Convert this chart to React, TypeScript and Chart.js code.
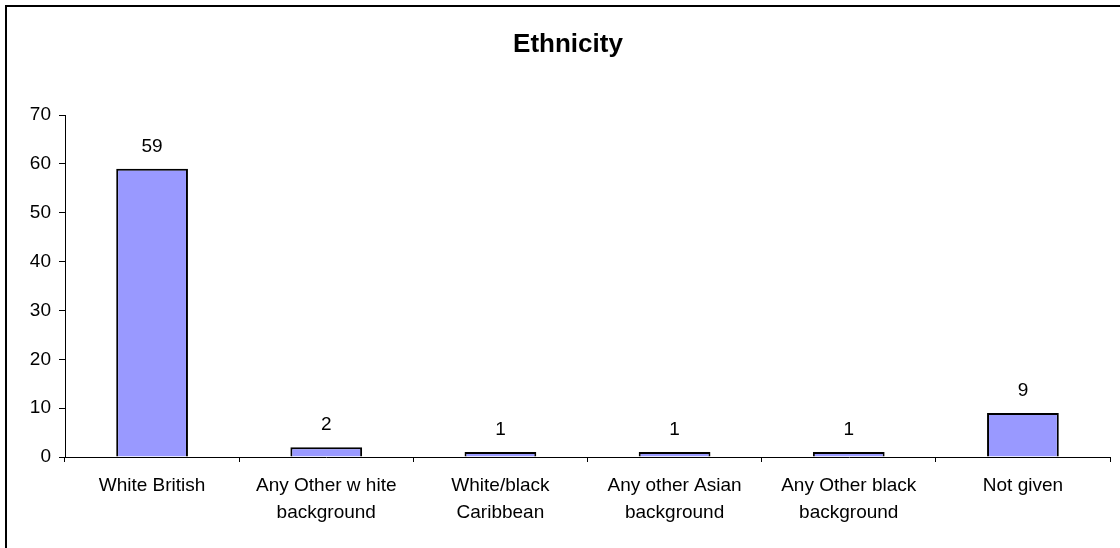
import React, { useEffect, useRef } from "react";
import { Chart, registerables } from "chart.js";

Chart.register(...registerables);

const categories: string[][] = [
  ["White British"],
  ["Any Other w hite", "background"],
  ["White/black", "Caribbean"],
  ["Any other Asian", "background"],
  ["Any Other black", "background"],
  ["Not given"],
];
const values: number[] = [59, 2, 1, 1, 1, 9];
const yTicks: number[] = [0, 10, 20, 30, 40, 50, 60, 70];
const titleText = "Ethnicity";

const FONT = "Arial, 'Liberation Sans', sans-serif";

const decorPlugin = {
  id: "decor",
  afterDraw(chart: any) {
    const ctx = chart.ctx;
    ctx.save();
    // outer frame (left and top visible)
    ctx.strokeStyle = "#000";
    ctx.lineWidth = 2;
    ctx.beginPath();
    ctx.moveTo(6, chart.height + 2);
    ctx.lineTo(6, 6);
    ctx.lineTo(chart.width + 2, 6);
    ctx.stroke();
    // title
    ctx.fillStyle = "#000";
    ctx.font = `bold 26px ${FONT}`;
    ctx.textAlign = "center";
    ctx.textBaseline = "alphabetic";
    ctx.fillText(titleText, 568, 52);
    // data labels
    ctx.font = `19px ${FONT}`;
    const meta = chart.getDatasetMeta(0);
    meta.data.forEach((bar: any, i: number) => {
      ctx.fillText(String(values[i]), bar.x, bar.y - 17);
    });
    ctx.restore();
  },
};

export default function App() {
  const ref = useRef<HTMLCanvasElement | null>(null);
  useEffect(() => {
    document.body.style.margin = "0";
    const chart = new Chart(ref.current as HTMLCanvasElement, {
      type: "bar",
      data: {
        labels: categories,
        datasets: [
          {
            data: values,
            backgroundColor: "#9999FF",
            borderColor: "#000000",
            borderWidth: 2,
            categoryPercentage: 1,
            barPercentage: 0.412,
          },
        ],
      },
      options: {
        animation: false,
        responsive: false,
        maintainAspectRatio: false,
        layout: { padding: { top: 115, right: 10, left: 0, bottom: 0 } },
        plugins: {
          legend: { display: false },
          title: { display: false },
          tooltip: { enabled: false },
        },
        scales: {
          x: {
            offset: true,
            border: { color: "#000", width: 1 },
            grid: {
              offset: true,
              drawOnChartArea: false,
              drawTicks: true,
              tickLength: 5,
              color: "#000",
            },
            ticks: {
              color: "#000",
              font: { family: FONT, size: 19, lineHeight: 1.42 },
              padding: 10,
              maxRotation: 0,
              autoSkip: false,
            },
            afterFit(scale: any) {
              scale.height = 91;
            },
          },
          y: {
            min: 0,
            max: 70,
            border: { color: "#000", width: 1 },
            grid: {
              drawOnChartArea: false,
              drawTicks: true,
              tickLength: 6,
              color: "#000",
            },
            afterBuildTicks(scale: any) {
              scale.ticks = yTicks.map((v) => ({ value: v }));
            },
            ticks: {
              color: "#000",
              font: { family: FONT, size: 19 },
              padding: 8,
            },
            afterFit(scale: any) {
              scale.width = 65;
            },
          },
        },
      },
      plugins: [decorPlugin],
    });
    return () => chart.destroy();
  }, []);
  return (
    <div style={{ position: "absolute", left: 0, top: 0, width: 1120, height: 548, background: "#fff" }}>
      <canvas ref={ref} width={1120} height={548} style={{ display: "block", width: 1120, height: 548 }} />
    </div>
  );
}
